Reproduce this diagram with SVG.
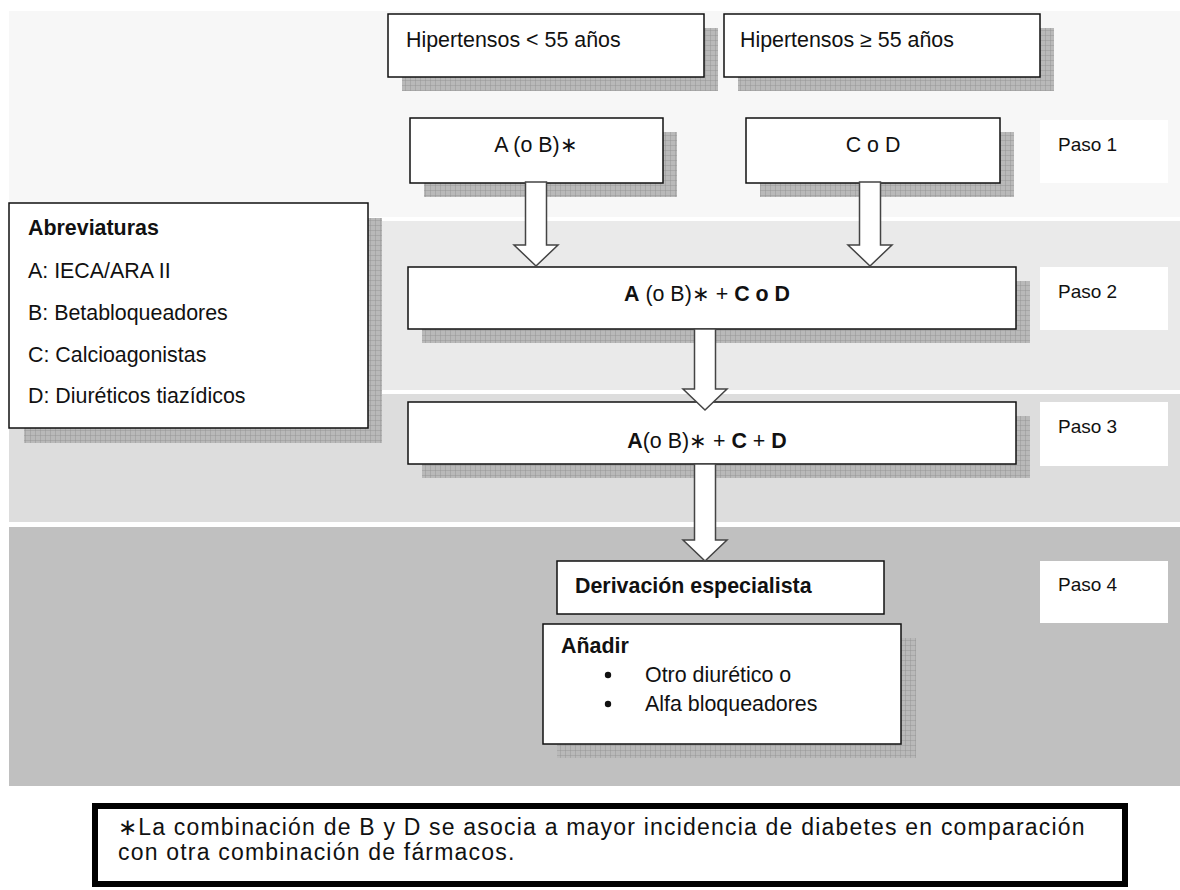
<svg xmlns="http://www.w3.org/2000/svg" width="1180" height="890" viewBox="0 0 1180 890">
<defs>
<style>
text{font-family:"Liberation Sans",Arial,sans-serif;fill:#111;}
.t{font-size:21.4px;}
.p{font-size:19px;}
.b{font-weight:bold;}
.n{font-size:23px;letter-spacing:1.2px;}
.box{fill:#fff;stroke:#111;stroke-width:1.5;}
.lbl{fill:#fff;}
.sh{fill:url(#hatch);}
.arr{fill:#fff;stroke:#444;stroke-width:1.5;stroke-linejoin:miter;}
</style>
<pattern id="hatch" width="5" height="5" patternUnits="userSpaceOnUse">
<rect width="5" height="5" fill="#b9b9b9"/>
<path d="M0 0H5M0 0V5" stroke="#8e8e8e" stroke-width="0.8"/>
</pattern>
</defs>
<rect width="1180" height="890" fill="#fff"/>
<g id="bands">
<rect x="9" y="11" width="1171" height="206" fill="#f7f7f7"/>
<rect x="9" y="221" width="1171" height="169" fill="#eaeaea"/>
<rect x="9" y="394" width="1171" height="128" fill="#dddddd"/>
<rect x="9" y="527" width="1171" height="259" fill="#c0c0c0"/>
</g>
<g id="n_hip_lt55">
<rect class="sh" x="402" y="28" width="316" height="63"/>
<rect class="box" x="388" y="14" width="316" height="63"/>
<text class="t" x="406" y="47">Hipertensos &lt; 55 años</text>
</g>
<g id="n_hip_ge55">
<rect class="sh" x="738" y="28" width="316" height="63"/>
<rect class="box" x="724" y="14" width="316" height="63"/>
<text class="t" x="740" y="47">Hipertensos ≥ 55 años</text>
</g>
<g id="n_aob">
<rect class="sh" x="424" y="132" width="253" height="65"/>
<rect class="box" x="410" y="118" width="253" height="65"/>
<text class="t" x="536" y="152" text-anchor="middle">A (o B)∗</text>
</g>
<g id="n_cod">
<rect class="sh" x="760" y="132" width="254" height="65"/>
<rect class="box" x="746" y="118" width="254" height="65"/>
<text class="t" x="873" y="152" text-anchor="middle">C o D</text>
</g>
<g id="n_paso1">
<rect class="lbl" x="1040" y="120" width="128" height="63"/>
<text class="p" x="1058" y="151">Paso 1</text>
</g>
<g id="n_abrev">
<rect class="sh" x="24" y="218" width="358" height="225"/>
<rect class="box" x="9" y="203" width="359" height="225"/>
<text class="t b" x="28" y="235">Abreviaturas</text>
<text class="t" x="28" y="278">A: IECA/ARA II</text>
<text class="t" x="28" y="320">B: Betabloqueadores</text>
<text class="t" x="28" y="362">C: Calcioagonistas</text>
<text class="t" x="28" y="403">D: Diuréticos tiazídicos</text>
</g>
<g id="n_paso2box">
<rect class="sh" x="422" y="281" width="608" height="62"/>
<rect class="box" x="408" y="267" width="608" height="62"/>
<text class="t" x="707" y="301" text-anchor="middle"><tspan class="b">A</tspan> (o B)∗ + <tspan class="b">C  o  D</tspan></text>
</g>
<g id="n_paso2">
<rect class="lbl" x="1040" y="267" width="128" height="63"/>
<text class="p" x="1058" y="298">Paso 2</text>
</g>
<g id="n_paso3box">
<rect class="sh" x="422" y="416" width="608" height="62"/>
<rect class="box" x="408" y="402" width="608" height="62"/>
<text class="t" x="707" y="448" text-anchor="middle"><tspan class="b">A</tspan>(o B)∗ + <tspan class="b">C</tspan> + <tspan class="b">D</tspan></text>
</g>
<g id="n_paso3">
<rect class="lbl" x="1040" y="402" width="128" height="64"/>
<text class="p" x="1058" y="433">Paso 3</text>
</g>
<g id="n_deriv">
<rect class="box" x="557" y="561" width="327" height="53"/>
<text class="t b" x="575" y="593">Derivación especialista</text>
</g>
<g id="n_paso4">
<rect class="lbl" x="1040" y="561" width="128" height="62"/>
<text class="p" x="1058" y="591">Paso 4</text>
</g>
<g id="n_anadir">
<rect class="sh" x="557" y="638" width="359" height="120"/>
<rect class="box" x="543" y="624" width="358" height="120"/>
<text class="t b" x="561" y="653">Añadir</text>
<circle cx="608" cy="675" r="3.2" fill="#111"/>
<text class="t" x="645" y="682">Otro diurético o</text>
<circle cx="608" cy="704" r="3.2" fill="#111"/>
<text class="t" x="645" y="711">Alfa bloqueadores</text>
</g>
<g id="n_nota">
<rect x="95" y="806" width="1030" height="78" fill="#fff" stroke="#000" stroke-width="6"/>
<text class="n" x="118" y="835">∗La combinación de B y D se asocia a mayor incidencia de diabetes en comparación</text>
<text class="n" x="118" y="860">con otra combinación de fármacos.</text>
</g>
<g id="connectors">
<path class="arr" d="M525.5 182V245H514L536 266L558 245H546.5V182Z"/>
<path class="arr" d="M859.5 182V245H848L870 266L892 245H880.5V182Z"/>
<path class="arr" d="M694.5 329V389H683L705 410L727 389H715.5V329Z"/>
<path class="arr" d="M694.5 464V540H683L705 561L727 540H715.5V464Z"/>
</g>
</svg>
